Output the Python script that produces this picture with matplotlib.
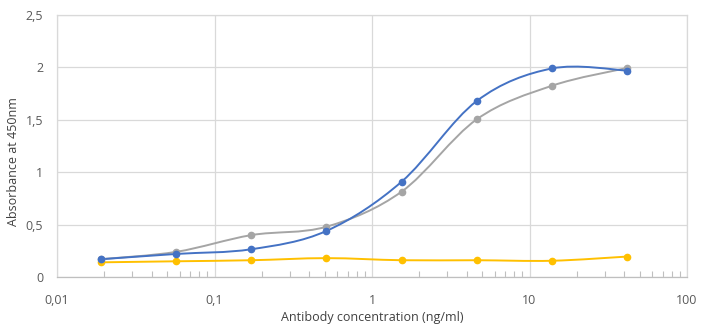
import matplotlib.pyplot as plt
import numpy as np
from matplotlib.path import Path
from matplotlib.patches import PathPatch
from matplotlib.ticker import LogLocator, FixedLocator, NullFormatter

concentracao = [0.0191, 0.0572, 0.1715, 0.514, 1.543, 4.63, 13.89, 41.67]

serie_azul = [0.17, 0.22, 0.265, 0.44, 0.91, 1.68, 1.99, 1.97]
serie_cinza = [0.17, 0.24, 0.40, 0.48, 0.815, 1.505, 1.825, 1.995]
serie_amarela = [0.14, 0.15, 0.16, 0.18, 0.16, 0.16, 0.155, 0.195]

cores = ['#4472C4', '#A5A5A5', '#FFC000']
series = [serie_amarela, serie_cinza, serie_azul]
cores_series = [cores[2], cores[1], cores[0]]

y_ticks = [0, 0.5, 1, 1.5, 2, 2.5]
y_labels = ['0', '0,5', '1', '1,5', '2', '2,5']
x_ticks = [0.01, 0.1, 1, 10, 100]
x_labels = ['0,01', '0,1', '1', '10', '100']


def curva_suave(xs, ys):
    # bezier estilo Excel, calculado em (log x, y)
    lx = np.log10(xs)
    p = np.column_stack([lx, ys])
    n = len(p)
    verts = [p[0]]
    codes = [Path.MOVETO]
    for i in range(n - 1):
        p0 = p[i - 1] if i > 0 else p[i]
        p3 = p[i + 2] if i + 2 < n else p[i + 1]
        c1 = p[i] + (p[i + 1] - p0) / 6
        c2 = p[i + 1] - (p3 - p[i]) / 6
        verts += [c1, c2, p[i + 1]]
        codes += [Path.CURVE4] * 3
    verts = np.array(verts)
    verts[:, 0] = 10 ** verts[:, 0]
    return Path(verts, codes)


plt.rcParams['font.family'] = ['Open Sans', 'DejaVu Sans']
plt.rcParams['xtick.direction'] = 'in'

fig = plt.figure(figsize=(7.1, 3.27), dpi=100)
ax = fig.add_axes([0.0803, 0.1529, 0.8873, 0.8012])

ax.set_xscale('log')
ax.set_xlim(0.01, 100)
ax.set_ylim(0, 2.5)

for ys, cor in zip(series, cores_series):
    patch = PathPatch(curva_suave(concentracao, ys), facecolor='none',
                      edgecolor=cor, linewidth=1.4, zorder=3)
    ax.add_patch(patch)
    ax.plot(concentracao, ys, linestyle='none', marker='o', markersize=4.5,
            color=cor, zorder=4)

ax.xaxis.set_major_locator(FixedLocator(x_ticks))
ax.set_xticklabels(x_labels)
ax.xaxis.set_minor_locator(LogLocator(base=10, subs=np.arange(2, 10)))
ax.xaxis.set_minor_formatter(NullFormatter())
ax.set_yticks(y_ticks)
ax.set_yticklabels(y_labels)

ax.grid(True, which='major', color='#D9D9D9', linewidth=0.9)
ax.set_axisbelow(True)
for s in ['top', 'right', 'left']:
    ax.spines[s].set_color('#D9D9D9')
    ax.spines[s].set_linewidth(0.9)
ax.spines['bottom'].set_color('#BFBFBF')
ax.spines['bottom'].set_linewidth(0.9)

ax.tick_params(axis='y', length=0, labelsize=9, labelcolor='#595959', pad=10)
ax.tick_params(axis='x', which='major', length=0, labelsize=9,
               labelcolor='#595959', pad=12)
ax.tick_params(axis='x', which='minor', length=4, width=0.8, color='#BFBFBF')

ax.set_xlabel('Antibody concentration (ng/ml)', fontsize=9, color='#404040',
              labelpad=3)
ax.set_ylabel('Absorbance at 450nm', fontsize=9, color='#404040')
ax.yaxis.set_label_coords(-0.058, 0.44)

plt.savefig('out.png', dpi=100)
